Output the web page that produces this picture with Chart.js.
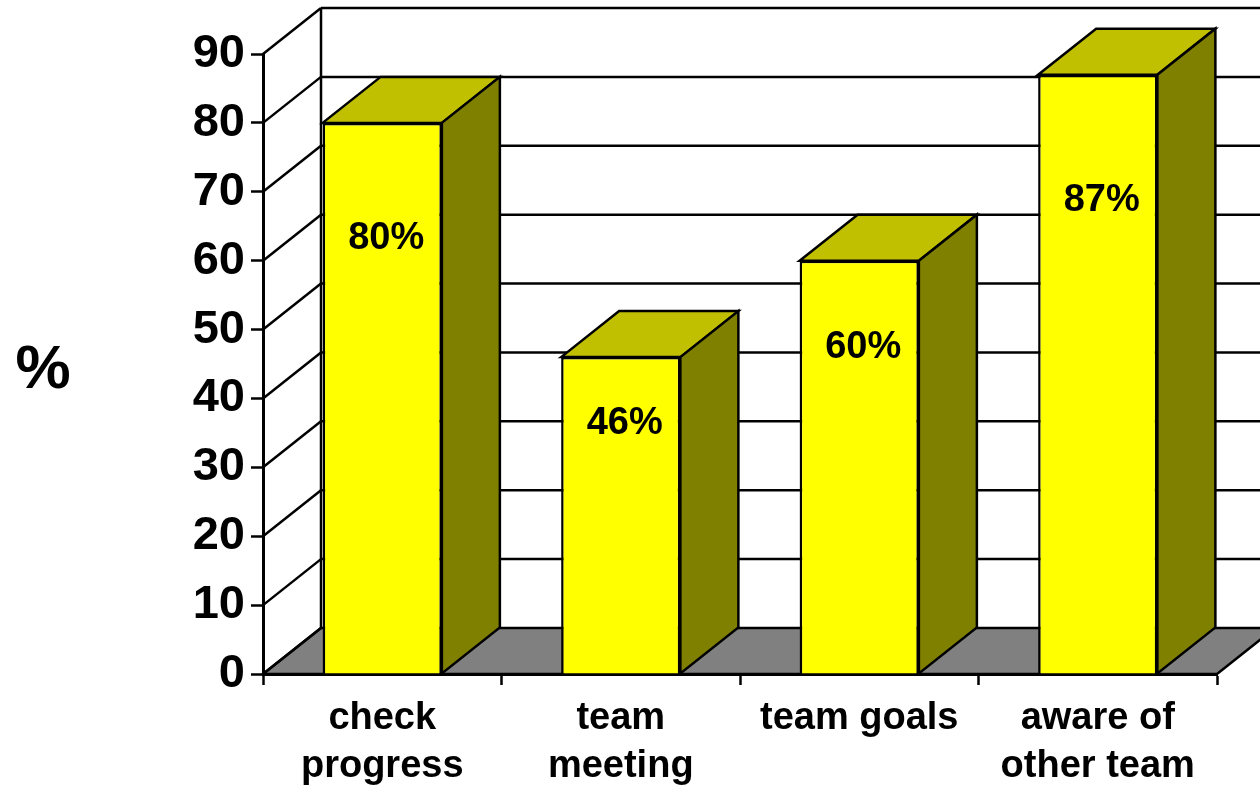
<!DOCTYPE html>
<html>
<head>
<meta charset="utf-8">
<title>Team survey</title>
<script src="https://cdn.jsdelivr.net/npm/chart.js@4.4.1/dist/chart.umd.min.js"></script>
<style>
  html, body { margin: 0; padding: 0; background: #fff; }
  canvas { display: block; }
</style>
</head>
<body>
<canvas id="chart" width="1260" height="787"></canvas>
<script>
// survey answers, one bar per question
const categories = [["check", "progress"], ["team", "meeting"], ["team goals"], ["aware of", "other team"]];
const values = [80, 46, 60, 87];
const valueLabels = ["80%", "46%", "60%", "87%"];
const yTicks = [0, 10, 20, 30, 40, 50, 60, 70, 80, 90];
const axisTitle = "%";

(() => {
  const $ = (id) => document.getElementById(id);
  const FONT = '"Liberation Sans", Arial, sans-serif';
  // depth of the fake 3d box (back wall offset)
  const DX = 58, DY = -46;
  const FRONT = "#ffff00", TOP = "#c0c000", SIDE = "#808000", FLOOR = "#808080";
  const LW = 2.5;

  function poly(ctx, pts, fill) {
    ctx.beginPath();
    ctx.moveTo(pts[0][0], pts[0][1]);
    for (let i = 1; i < pts.length; i++) ctx.lineTo(pts[i][0], pts[i][1]);
    ctx.closePath();
    if (fill) { ctx.fillStyle = fill; ctx.fill(); }
    ctx.stroke();
  }

  function line(ctx, x1, y1, x2, y2) {
    ctx.beginPath();
    ctx.moveTo(x1, y1);
    ctx.lineTo(x2, y2);
    ctx.stroke();
  }

  const box3d = {
    id: "box3d",
    beforeDatasetsDraw(chart) {
      const { ctx, chartArea: a, scales: { y } } = chart;
      ctx.save();
      ctx.strokeStyle = "#000";
      ctx.lineWidth = LW;

      // floor
      poly(ctx, [[a.left, a.bottom], [a.left + DX, a.bottom + DY], [a.right + DX, a.bottom + DY], [a.right, a.bottom]], FLOOR);

      // left wall diagonals + back wall grid
      yTicks.forEach(v => {
        const py = y.getPixelForValue(v);
        line(ctx, a.left, py, a.left + DX, py + DY);
        if (v > 0) line(ctx, a.left + DX, py + DY, a.right + DX + 10, py + DY);
      });
      line(ctx, a.left + DX, y.getPixelForValue(0) + DY, a.left + DX, y.getPixelForValue(yTicks[yTicks.length - 1]) + DY);

      // top and side faces of each column
      chart.getDatasetMeta(0).data.forEach(bar => {
        const p = bar.getProps(["x", "y", "base", "width"], true);
        const l = p.x - p.width / 2, r = p.x + p.width / 2;
        poly(ctx, [[l, p.y], [l + DX, p.y + DY], [r + DX, p.y + DY], [r, p.y]], TOP);
        poly(ctx, [[r, p.y], [r + DX, p.y + DY], [r + DX, p.base + DY], [r, p.base]], SIDE);
      });
      ctx.restore();
    },
    afterDatasetsDraw(chart) {
      const { ctx } = chart;
      ctx.save();
      ctx.fillStyle = "#000";
      ctx.font = `bold 38px ${FONT}`;
      ctx.textAlign = "center";
      ctx.textBaseline = "middle";
      chart.getDatasetMeta(0).data.forEach((bar, i) => {
        const p = bar.getProps(["x", "y", "base"], true);
        ctx.fillText(valueLabels[i], p.x + 4, p.y + (p.base - p.y) * 0.21);
      });
      ctx.restore();
    },
    afterDraw(chart) {
      const { ctx, chartArea: a } = chart;
      ctx.save();
      ctx.fillStyle = "#000";
      ctx.font = `bold 62px ${FONT}`;
      ctx.textAlign = "center";
      ctx.textBaseline = "middle";
      ctx.fillText(axisTitle, 43, (a.top + a.bottom) / 2 + 7);
      ctx.restore();
    }
  };

  new Chart($("chart"), {
    type: "bar",
    data: {
      labels: categories,
      datasets: [{
        data: values,
        backgroundColor: FRONT,
        borderColor: "#000",
        borderWidth: LW,
        barPercentage: 0.5,
        categoryPercentage: 1.0
      }]
    },
    options: {
      responsive: false,
      animation: false,
      layout: { padding: { top: 54, right: 43, bottom: 0, left: 0 } },
      plugins: { legend: { display: false }, tooltip: { enabled: false } },
      scales: {
        x: {
          offset: true,
          grid: { offset: true, drawOnChartArea: false, tickLength: 11, tickWidth: 2.5, tickColor: "#000" },
          border: { display: true, color: "#000", width: 3 },
          ticks: {
            color: "#000", autoSkip: false, maxRotation: 0, padding: 10,
            font: { family: FONT, size: 38, weight: "bold", lineHeight: 1.26 }
          },
          afterFit: (s) => { s.height = 113; }
        },
        y: {
          min: 0, max: 90,
          grid: { drawOnChartArea: false, tickLength: 12, tickWidth: 2.5, tickColor: "#000" },
          border: { display: true, color: "#000", width: 3 },
          ticks: {
            stepSize: 10, color: "#000", padding: 6,
            font: { family: FONT, size: 47, weight: "bold" }
          },
          afterFit: (s) => { s.width = 263; }
        }
      }
    },
    plugins: [box3d]
  });
})();
</script>
</body>
</html>
